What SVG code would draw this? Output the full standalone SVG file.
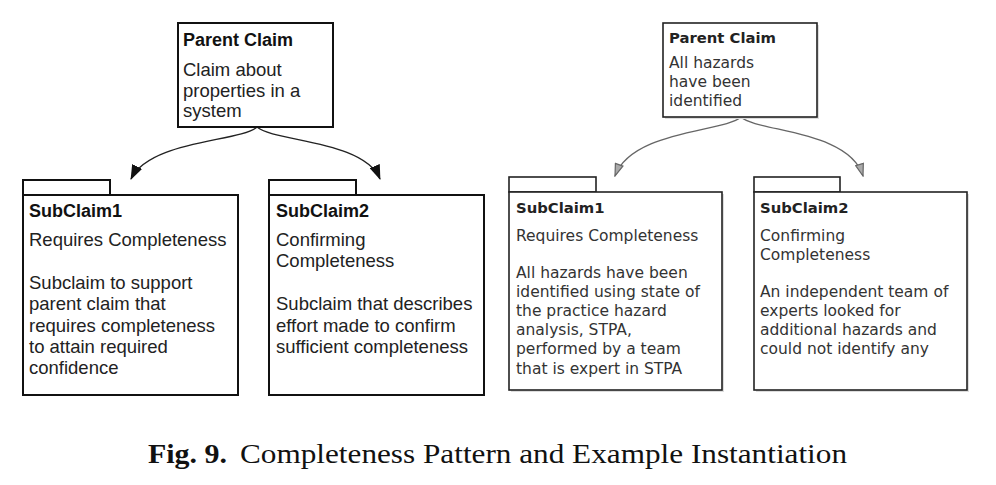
<svg xmlns="http://www.w3.org/2000/svg" width="996" height="485" viewBox="0 0 996 485">
<defs>
<style>
.box{fill:#fff;stroke:#111;stroke-width:2}
.boxr{fill:#fff;stroke:#222;stroke-width:1.6}
.sh{fill:#ddd}
.lt{font-family:"Liberation Sans",Arial,sans-serif;font-size:18.5px;fill:#222}
.lb{font-family:"Liberation Sans",Arial,sans-serif;font-size:18px;font-weight:bold;fill:#111}
.rt{font-family:"DejaVu Sans",Verdana,sans-serif;font-size:15.5px;fill:#333}
.rb{font-family:"DejaVu Sans",Verdana,sans-serif;font-size:14.8px;font-weight:bold;fill:#222}
.conl{fill:none;stroke:#222;stroke-width:1.4}
.conr{fill:none;stroke:#666;stroke-width:1.3}
.cap{font-family:"Liberation Serif","Times New Roman",serif;font-size:28px;fill:#111}
</style>
<marker id="ab" viewBox="0 0 15 11" refX="14" refY="5.5" markerWidth="15" markerHeight="11" markerUnits="userSpaceOnUse" orient="auto">
<path d="M0,0 L15,5.5 L0,11 Z" fill="#111"/>
</marker>
<marker id="ag" viewBox="0 0 14 10" refX="13" refY="5" markerWidth="14" markerHeight="10" markerUnits="userSpaceOnUse" orient="auto">
<path d="M1,1 L13,5 L1,9 Z" fill="#aaa" stroke="#666" stroke-width="1.2"/>
</marker>
</defs>
<rect width="996" height="485" fill="#fff"/>

<g id="connectors">
<path class="conl" d="M257,127 C240,142 150,140 131,179" marker-end="url(#ab)"/>
<path class="conl" d="M257,127 C274,142 364,140 380,179" marker-end="url(#ab)"/>
<path class="conr" d="M741,117 C725,132 632,130 615,176" marker-end="url(#ag)"/>
<path class="conr" d="M741,117 C757,132 849,130 863,176" marker-end="url(#ag)"/>
</g>

<g id="parent-left">
<rect class="box" x="178" y="23" width="155" height="104"/>
<text class="lb" x="183" y="46">Parent Claim</text>
<text class="lt" x="183" y="76">Claim about</text>
<text class="lt" x="183" y="97">properties in a</text>
<text class="lt" x="183" y="117">system</text>
</g>

<g id="subclaim1-left">
<rect class="box" x="23" y="180" width="87" height="15"/>
<rect class="box" x="23" y="195" width="215" height="200"/>
<text class="lb" x="29" y="217">SubClaim1</text>
<text class="lt" x="29" y="246">Requires Completeness</text>
<text class="lt" x="29" y="289">Subclaim to support</text>
<text class="lt" x="29" y="310">parent claim that</text>
<text class="lt" x="29" y="332">requires completeness</text>
<text class="lt" x="29" y="353">to attain required</text>
<text class="lt" x="29" y="374">confidence</text>
</g>

<g id="subclaim2-left">
<rect class="box" x="269" y="180" width="87" height="15"/>
<rect class="box" x="269" y="195" width="215" height="200"/>
<text class="lb" x="276" y="217">SubClaim2</text>
<text class="lt" x="276" y="246">Confirming</text>
<text class="lt" x="276" y="267">Completeness</text>
<text class="lt" x="276" y="310">Subclaim that describes</text>
<text class="lt" x="276" y="332">effort made to confirm</text>
<text class="lt" x="276" y="353">sufficient completeness</text>
</g>

<g id="parent-right">
<rect class="sh" x="665" y="25" width="154" height="94"/>
<rect class="boxr" x="663" y="23" width="154" height="94"/>
<text class="rb" x="669" y="43">Parent Claim</text>
<text class="rt" x="669" y="68">All hazards</text>
<text class="rt" x="669" y="87">have been</text>
<text class="rt" x="669" y="106">identified</text>
</g>

<g id="subclaim1-right">
<rect class="boxr" x="509" y="177" width="87" height="15"/>
<rect class="sh" x="511" y="194" width="213" height="198"/>
<rect class="boxr" x="509" y="192" width="213" height="198"/>
<text class="rb" x="516" y="213">SubClaim1</text>
<text class="rt" x="516" y="241">Requires Completeness</text>
<text class="rt" x="516" y="278">All hazards have been</text>
<text class="rt" x="516" y="297">identified using state of</text>
<text class="rt" x="516" y="316">the practice hazard</text>
<text class="rt" x="516" y="335">analysis, STPA,</text>
<text class="rt" x="516" y="354">performed by a team</text>
<text class="rt" x="516" y="374">that is expert in STPA</text>
</g>

<g id="subclaim2-right">
<rect class="boxr" x="754" y="177" width="86" height="15"/>
<rect class="sh" x="756" y="194" width="213" height="198"/>
<rect class="boxr" x="754" y="192" width="213" height="198"/>
<text class="rb" x="760" y="213">SubClaim2</text>
<text class="rt" x="760" y="241">Confirming</text>
<text class="rt" x="760" y="260">Completeness</text>
<text class="rt" x="760" y="297">An independent team of</text>
<text class="rt" x="760" y="316">experts looked for</text>
<text class="rt" x="760" y="335">additional hazards and</text>
<text class="rt" x="760" y="354">could not identify any</text>
</g>

<g id="caption">
<text class="cap" x="148" y="463" font-weight="bold" textLength="79" lengthAdjust="spacingAndGlyphs">Fig. 9.</text>
<text class="cap" x="240" y="463" textLength="607" lengthAdjust="spacingAndGlyphs">Completeness Pattern and Example Instantiation</text>
</g>
</svg>
